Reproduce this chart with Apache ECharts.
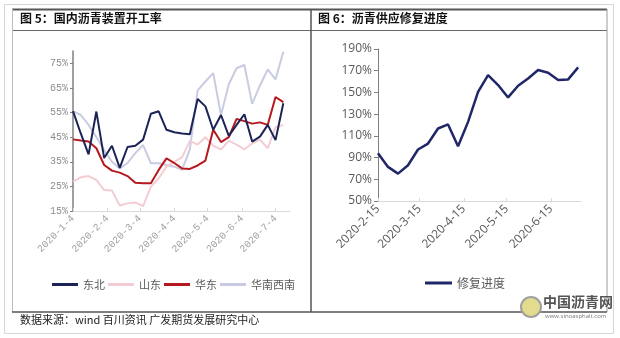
<!DOCTYPE html>
<html><head><meta charset="utf-8">
<script src="https://cdn.jsdelivr.net/npm/echarts@6/dist/echarts.min.js"></script>
<style>html,body{margin:0;padding:0;background:#fff}#c{width:620px;height:338px}</style>
</head><body><div id="c"></div>
<script>
const leftDates = ['2020-1-4','2020-1-11','2020-1-18','2020-1-25','2020-2-1','2020-2-8','2020-2-15','2020-2-22','2020-2-29','2020-3-7','2020-3-14','2020-3-21','2020-3-28','2020-4-4','2020-4-11','2020-4-18','2020-4-25','2020-5-2','2020-5-9','2020-5-16','2020-5-23','2020-5-30','2020-6-6','2020-6-13','2020-6-20','2020-6-27','2020-7-4','2020-7-11'];
const dongbei   = [55.6,46.5,38,55.4,36.5,41.5,32.5,41,41.5,44,54.5,55.5,48,47,46.5,46.2,60.5,57.5,48,54,45.5,50,54.3,43.2,45.2,50,43.8,58.8];
const shandong  = [26.9,28.7,29.2,27.6,23.5,23.3,17.2,18.1,18.5,17,24.9,28.3,33,35,36.8,43.5,42,45,41.5,40,43.5,42,40,42.5,44,40.5,49,50];
const huadong   = [44.1,43.6,43.2,40.5,33.7,31.4,30.6,29.2,26.5,26.3,26.3,31.7,36.4,34.5,32.3,32.1,33.5,35.5,48,43,45,52.4,51.5,50.5,51,50,61.3,59.2];
const huananxinan = [55.6,54,50,45,39.8,35,32.3,34.5,38.5,41.8,34.4,34.4,33.7,33,31.7,40,64,67.6,71,54,66.5,73,74.3,58.5,66,72.5,68.5,79.7];
const leftTicks = ['2020-1-4','2020-2-4','2020-3-4','2020-4-4','2020-5-4','2020-6-4','2020-7-4'];
const leftYTicks = [15,25,35,45,55,65,75];

const rightDates = ['2020-2-15','2020-2-22','2020-2-29','2020-3-7','2020-3-14','2020-3-21','2020-3-28','2020-4-4','2020-4-11','2020-4-18','2020-4-25','2020-5-2','2020-5-9','2020-5-16','2020-5-23','2020-5-30','2020-6-6','2020-6-13','2020-6-20','2020-6-27','2020-7-4'];
const repair = [94,81.4,75.2,82.9,97.4,102.9,116.8,120.5,100.5,122.9,150.6,166,156.8,145.4,156.2,162.9,170.6,168.2,161.4,162,173.1];
const rightTicks = ['2020-2-15','2020-3-15','2020-4-15','2020-5-15','2020-6-15'];

function ts(s){const p=s.split('-').map(Number);return Date.UTC(p[0],p[1]-1,p[2]);}
function fmt(v){const d=new Date(v);return d.getUTCFullYear()+'-'+(d.getUTCMonth()+1)+'-'+d.getUTCDate();}
function pairs(dates, vals){return dates.map((d,i)=>[ts(d),vals[i]]);}

const chart = echarts.init(document.getElementById('c'), null, {renderer:'canvas'});
const cjk = '"Noto Sans CJK SC", sans-serif';
const mono = '"Liberation Mono", "DejaVu Sans Mono", monospace';
const sans = '"Open Sans", "Noto Sans", sans-serif';

const lineColors = {dongbei:'#1c2456', shandong:'#f3cdd3', huadong:'#b5181f', hnxn:'#c9cbe2', repair:'#1f2769'};

chart.setOption({
  animation:false,
  graphic:[
    {type:'rect', shape:{x:4.5,y:4.5,width:609,height:329}, style:{fill:'none',stroke:'#d6d6d6',lineWidth:1}, silent:true},
    {type:'line', shape:{x1:12,y1:9.5,x2:607,y2:9.5}, style:{stroke:'#555',lineWidth:2}},
    {type:'line', shape:{x1:12,y1:30.5,x2:607,y2:30.5}, style:{stroke:'#666',lineWidth:1.2}},
    {type:'line', shape:{x1:12.5,y1:9,x2:12.5,y2:312}, style:{stroke:'#bdbdbd',lineWidth:1}},
    {type:'line', shape:{x1:311,y1:9,x2:311,y2:312}, style:{stroke:'#555',lineWidth:1.5}},
    {type:'line', shape:{x1:607,y1:9,x2:607,y2:312}, style:{stroke:'#9a9a9a',lineWidth:1}},
    {type:'line', shape:{x1:12,y1:312,x2:607,y2:312}, style:{stroke:'#555',lineWidth:1.5}},
    {type:'text', left:20, top:12, style:{text:'图 5：国内沥青装置开工率', font:'bold 12px '+cjk, fill:'#111'}},
    {type:'text', left:318, top:12, style:{text:'图 6：沥青供应修复进度', font:'bold 12px '+cjk, fill:'#111'}},
    {type:'text', left:20, top:314, style:{text:'数据来源：wind 百川资讯 广发期货发展研究中心', font:'11px '+cjk, fill:'#222'}},
    {type:'circle', shape:{cx:531,cy:307,r:10}, style:{fill:'#e3dc8e',stroke:'#a0a0a0',lineWidth:2}},
    {type:'text', left:543, top:295, style:{text:'中国沥青网', font:'bold 14px '+cjk, fill:'#555'}},
    {type:'text', left:545, top:313, style:{text:'www.sinoasphalt.com', font:'6px '+sans, fill:'#777'}}
  ],
  legend:[
    {left:47, top:274, itemWidth:26, itemHeight:3, itemGap:3, icon:'rect',
     textStyle:{fontFamily:cjk,fontSize:11,color:'#595959'},
     data:['东北','山东','华东','华南西南']},
    {left:420, top:272, itemWidth:27, itemHeight:3, icon:'rect',
     textStyle:{fontFamily:cjk,fontSize:12,color:'#595959'},
     data:['修复进度']}
  ],
  grid:[
    {left:73, top:51, width:217, height:160},
    {left:378, top:49, width:203, height:152}
  ],
  xAxis:[
    {type:'value', gridIndex:0, min:ts('2020-1-4'), max:ts('2020-7-17'),
     axisLine:{show:true, lineStyle:{color:'#d9d9d9',width:1}},
     axisTick:{show:true, inside:true, length:3, lineStyle:{color:'#d9d9d9'}, customValues:leftTicks.map(ts)},
     axisLabel:{rotate:45, margin:6, fontFamily:mono, fontSize:10, color:'#a0a0a0', customValues:leftTicks.map(ts), formatter:fmt},
     splitLine:{show:false}},
    {type:'value', gridIndex:1, min:ts('2020-2-15'), max:ts('2020-7-6'),
     axisLine:{show:true, lineStyle:{color:'#d9d9d9',width:1}},
     axisTick:{show:true, inside:true, length:3, lineStyle:{color:'#d9d9d9'}, customValues:rightTicks.map(ts)},
     axisLabel:{rotate:45, margin:6, fontFamily:sans, fontSize:12, color:'#595959', customValues:rightTicks.map(ts), formatter:fmt},
     splitLine:{show:false}}
  ],
  yAxis:[
    {type:'value', gridIndex:0, min:15, max:80,
     axisLine:{show:true, lineStyle:{color:'#7f7f7f',width:1.5}},
     axisTick:{show:true, length:3, lineStyle:{color:'#7f7f7f'}, customValues:leftYTicks},
     axisLabel:{fontFamily:mono, fontSize:10, color:'#8c8c8c', margin:5, customValues:leftYTicks, formatter:v=>v+'%'},
     splitLine:{show:false}},
    {type:'value', gridIndex:1, min:50, max:190, interval:20,
     axisLine:{show:true, lineStyle:{color:'#7f7f7f',width:1}},
     axisTick:{show:true, length:4, lineStyle:{color:'#7f7f7f'}},
     axisLabel:{fontFamily:sans, fontSize:12, color:'#595959', margin:6, formatter:v=>v+'%'},
     splitLine:{show:false}}
  ],
  series:[
    {name:'华南西南', type:'line', xAxisIndex:0, yAxisIndex:0, data:pairs(leftDates,huananxinan), symbol:'none', color:lineColors.hnxn, lineStyle:{width:2}},
    {name:'山东', type:'line', xAxisIndex:0, yAxisIndex:0, data:pairs(leftDates,shandong), symbol:'none', color:lineColors.shandong, lineStyle:{width:2}},
    {name:'华东', type:'line', xAxisIndex:0, yAxisIndex:0, data:pairs(leftDates,huadong), symbol:'none', color:lineColors.huadong, lineStyle:{width:2}},
    {name:'东北', type:'line', xAxisIndex:0, yAxisIndex:0, data:pairs(leftDates,dongbei), symbol:'none', color:lineColors.dongbei, lineStyle:{width:2}},
    {name:'修复进度', type:'line', xAxisIndex:1, yAxisIndex:1, data:pairs(rightDates,repair), symbol:'none', color:lineColors.repair, lineStyle:{width:2.5}}
  ]
});
</script></body></html>
